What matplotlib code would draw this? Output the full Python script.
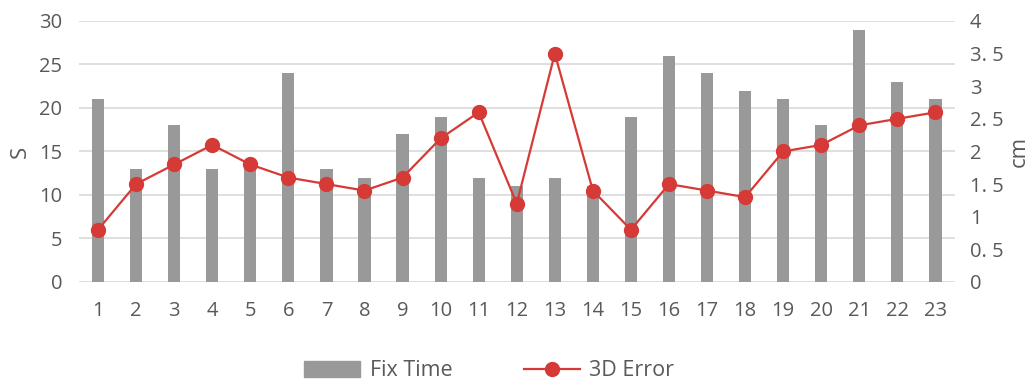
import numpy as np
import matplotlib.pyplot as plt
from matplotlib.patches import Patch
from matplotlib.lines import Line2D

plt.rcParams['font.family'] = ['Open Sans', 'DejaVu Sans']

# fix time (s) and 3D error (cm) for each test run
runs = list(range(1, 24))
fix_time = [21, 13, 18, 13, 13, 24, 13, 12, 17, 19, 12, 11, 12, 11, 19, 26, 24, 22, 21, 18, 29, 23, 21]
err_3d = [0.8, 1.5, 1.8, 2.1, 1.8, 1.6, 1.5, 1.4, 1.6, 2.2, 2.6, 1.2, 3.5, 1.4, 0.8, 1.5, 1.4, 1.3, 2.0, 2.1, 2.4, 2.5, 2.6]

left_ticks = [0, 5, 10, 15, 20, 25, 30]
right_ticks = [0, 0.5, 1, 1.5, 2, 2.5, 3, 3.5, 4]
right_labels = ['0', '0. 5', '1', '1. 5', '2', '2. 5', '3', '3. 5', '4']

txt = '#595959'
bar_c = '#999999'
red = '#d63a36'

fig = plt.figure(figsize=(10.30, 3.81), dpi=100)
ax = fig.add_axes([0.0767, 0.260, 0.850, 0.685])
ax2 = ax.twinx()

ax.bar(runs, fix_time, width=0.32, color=bar_c, zorder=2)
ax2.plot(runs, err_3d, color=red, lw=1.6, marker='o', ms=10, zorder=3)

ax.set_xlim(0.5, 23.5)
ax.set_ylim(0, 30)
ax2.set_ylim(0, 4)
ax.set_xticks(runs)
ax.set_yticks(left_ticks)
ax2.set_yticks(right_ticks)
ax2.set_yticklabels(right_labels)

ax.grid(axis='y', color='#d9d9d9', lw=1.2, zorder=0)
ax.set_axisbelow(True)
for a in (ax, ax2):
    for s in a.spines.values():
        s.set_visible(False)
    a.tick_params(length=0, labelsize=14.5, labelcolor=txt)
ax.tick_params(axis='x', pad=14)
ax.tick_params(axis='y', pad=12)
ax2.tick_params(axis='y', pad=11)

ax.set_ylabel('S', fontsize=16, color=txt, labelpad=6)
ax2.set_ylabel('cm', fontsize=16, color=txt, labelpad=4, rotation=90)

handles = [Patch(color=bar_c), Line2D([], [], color=red, lw=1.6, marker='o', ms=10)]
fig.legend(handles, ['Fix Time', '3D Error'], loc='center', bbox_to_anchor=(0.475, 0.027),
           ncol=2, frameon=False, fontsize=15.5, labelcolor=txt,
           handlelength=2.6, handleheight=0.75, columnspacing=3.3, handletextpad=0.45)

fig.savefig('out.png', dpi=100)
